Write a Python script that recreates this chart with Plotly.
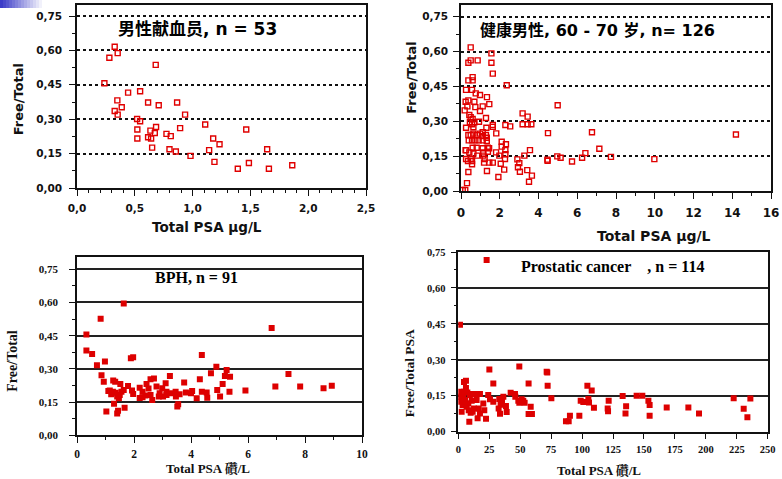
import plotly.graph_objects as go

W, H = 782, 479

# ---------------- data ----------------
p1_x = [0.326, 0.28, 0.352, 0.681, 0.237, 0.442, 0.546, 0.349, 0.387, 0.326, 0.352, 0.615, 0.707, 0.866,
        0.935, 0.520, 0.546, 0.684, 0.522, 0.635, 0.892, 1.109, 1.464, 0.673, 0.774, 0.811, 0.522, 0.615,
        0.641, 1.178, 1.233, 0.650, 0.80, 0.855, 1.143, 1.645, 0.982, 1.189, 1.487, 1.391, 1.660, 1.862]
p1_y = [0.616, 0.568, 0.588, 0.537, 0.457, 0.416, 0.422, 0.382, 0.352, 0.336, 0.320, 0.373, 0.361, 0.373,
        0.320, 0.301, 0.291, 0.266, 0.255, 0.250, 0.261, 0.277, 0.255, 0.240, 0.236, 0.226, 0.216, 0.221,
        0.216, 0.216, 0.191, 0.176, 0.169, 0.159, 0.165, 0.169, 0.140, 0.114, 0.109, 0.084, 0.084, 0.099]

p2_x = [0.50, 0.38, 0.50, 0.86, 1.57, 1.57, 1.64, 0.60, 0.38, 0.60, 2.36, 0.26, 0.57, 0.76, 0.98, 1.34,
        0.24, 0.38, 0.69, 1.46, 0.19, 0.33, 0.74, 1.12, 0.98, 1.29, 0.43, 0.50, 0.60, 0.46, 0.69, 0.93,
        0.26, 0.57, 0.64, 1.31, 1.64, 1.64, 2.29, 2.54, 3.18, 3.44, 3.18, 3.44, 3.63, 1.82,
        0.38, 0.50, 0.64, 0.83, 0.98, 1.12, 1.12, 1.29, 1.33, 0.40, 0.57, 0.74, 0.91, 1.12, 1.33,
        0.26, 0.60, 0.81, 1.12, 1.38, 2.10, 2.32, 2.10, 2.29, 1.45, 1.39, 1.81, 1.15, 1.15, 0.43,
        0.64, 0.84, 0.26, 0.50, 0.57, 0.36, 0.57, 1.22, 1.19, 1.46, 1.64, 1.98, 2.05, 2.29, 2.27,
        2.23, 1.34, 0.38, 1.93, 0.31, 0.09, 0.22, 2.91, 3.01, 2.94, 3.04, 3.27, 3.56, 3.42, 3.66,
        3.51, 4.49, 4.46, 4.47, 4.99, 4.97, 5.14, 5.73, 6.25, 6.42, 6.76, 7.14, 7.74, 9.98, 14.19, 0.24]
p2_y = [0.618, 0.552, 0.562, 0.562, 0.592, 0.552, 0.505, 0.490, 0.476, 0.476, 0.455, 0.435, 0.435, 0.420,
        0.413, 0.404, 0.384, 0.390, 0.384, 0.374, 0.347, 0.364, 0.361, 0.364, 0.344, 0.314, 0.327, 0.318,
        0.310, 0.296, 0.296, 0.298, 0.272, 0.287, 0.274, 0.272, 0.284, 0.276, 0.284, 0.278, 0.334, 0.320,
        0.287, 0.287, 0.287, 0.248,
        0.241, 0.241, 0.247, 0.241, 0.247, 0.253, 0.236, 0.241, 0.229, 0.218, 0.218, 0.218, 0.218, 0.218,
        0.215, 0.175, 0.186, 0.186, 0.184, 0.186, 0.212, 0.201, 0.191, 0.176, 0.184, 0.169, 0.166, 0.166,
        0.152, 0.166, 0.161, 0.152, 0.138, 0.138, 0.129, 0.129, 0.115, 0.138, 0.122, 0.122, 0.122, 0.152,
        0.117, 0.158, 0.138, 0.092, 0.086, 0.082, 0.060, 0.034, 0.004, 0.004, 0.136, 0.120, 0.102, 0.083,
        0.152, 0.176, 0.090, 0.066, 0.040, 0.249, 0.135, 0.130, 0.369, 0.149, 0.143, 0.127, 0.143, 0.163,
        0.253, 0.182, 0.147, 0.137, 0.243, 0.176]

p3_x = [0.33, 0.83, 1.64, 0.33, 0.53, 0.70, 0.98, 1.89, 1.97, 0.86, 0.94, 1.27, 1.34, 1.15, 1.03, 1.30,
        1.41, 1.44, 1.67, 1.41, 1.52, 1.56, 1.64, 1.47, 1.79, 1.93, 1.97, 2.20, 2.30, 2.30, 2.44, 2.51,
        2.58, 2.70, 2.58, 2.64, 2.79, 2.87, 2.99, 3.02, 3.14, 3.14, 3.26, 3.11, 3.31, 3.46, 3.47, 3.52,
        3.55, 3.76, 3.82, 4.04, 4.20, 4.31, 4.38, 4.38, 4.55, 4.57, 4.70, 4.89, 4.92, 5.02, 5.11, 5.19,
        5.25, 5.37, 5.35, 5.91, 6.83, 6.96, 7.42, 7.83, 8.65, 8.94, 1.26, 1.36, 1.20, 1.50, 1.10, 2.40,
        2.90, 3.60, 2.20, 4.00]
p3_y = [0.455, 0.526, 0.595, 0.383, 0.367, 0.316, 0.333, 0.348, 0.352, 0.271, 0.242, 0.247, 0.242, 0.202,
        0.107, 0.142, 0.099, 0.111, 0.125, 0.175, 0.232, 0.197, 0.205, 0.167, 0.223, 0.202, 0.187, 0.215,
        0.197, 0.172, 0.232, 0.211, 0.253, 0.256, 0.182, 0.160, 0.220, 0.175, 0.212, 0.175, 0.197, 0.182,
        0.268, 0.235, 0.190, 0.197, 0.175, 0.130, 0.140, 0.238, 0.193, 0.200, 0.167, 0.253, 0.363, 0.197,
        0.193, 0.170, 0.280, 0.310, 0.205, 0.175, 0.232, 0.268, 0.295, 0.265, 0.197, 0.202, 0.485, 0.220,
        0.277, 0.220, 0.212, 0.224, 0.197, 0.192, 0.185, 0.182, 0.200, 0.180, 0.190, 0.185, 0.168, 0.190]

p4_x = [22.9, 1.35, 25.1, 49.3, 71.4, 71.9, 4.6, 6.2, 28.3, 56.8, 72.2, 104.3, 107.8, 75.2, 42.3, 45.8,
        46.1, 24.2, 17.5, 10.8, 14.0, 132.8, 144.1, 148.7, 222.5, 236.0, 230.6, 233.6, 194.5, 185.9,
        168.4, 153.6, 154.6, 154.6, 135.6, 135.1, 121.5, 120.7, 121.0, 109.6, 105.1, 105.6, 98.9, 101.0,
        97.8, 90.2, 87.0, 89.2, 58.5, 59.5, 56.8, 52.5, 53.6, 51.2, 48.5, 49.3, 36.4, 35.3, 33.1, 34.2,
        32.6, 33.7, 38.5, 39.1, 28.3, 25.6, 22.4, 20.2, 21.0, 16.4, 17.5, 15.6, 12.7, 11.6, 10.0, 8.9,
        6.7, 8.1, 5.4, 4.0, 2.7, 3.5, 2.7, 6.2, 7.3, 1.9, 0.8, 0.8, 10.8, 14.8, 9.4, 4.6, 6.2, 8.4]
p4_y = [0.717, 0.446, 0.260, 0.272, 0.250, 0.247, 0.207, 0.213, 0.201, 0.201, 0.192, 0.192, 0.172, 0.140,
        0.163, 0.157, 0.146, 0.153, 0.157, 0.157, 0.157, 0.149, 0.150, 0.150, 0.140, 0.139, 0.096, 0.060,
        0.076, 0.101, 0.101, 0.129, 0.111, 0.067, 0.106, 0.076, 0.129, 0.097, 0.085, 0.100, 0.136, 0.122,
        0.129, 0.124, 0.067, 0.067, 0.044, 0.044, 0.104, 0.074, 0.074, 0.129, 0.121, 0.135, 0.129, 0.121,
        0.146, 0.129, 0.136, 0.112, 0.097, 0.075, 0.107, 0.082, 0.125, 0.135, 0.054, 0.118, 0.090, 0.097,
        0.076, 0.056, 0.097, 0.083, 0.079, 0.042, 0.104, 0.118, 0.132, 0.146, 0.146, 0.111, 0.083, 0.182,
        0.164, 0.167, 0.146, 0.125, 0.129, 0.132, 0.153, 0.167, 0.118, 0.090]

titles = ["男性献血员, n = 53", "健康男性, 60 - 70 岁, n= 126", "BPH, n = 91",
          "Prostatic cancer\u00a0\u00a0\u00a0\u00a0, n = 114"]
x_titles = ["Total PSA µg/L", "Total PSA µg/L", "Total PSA 礸/L", "Total PSA 礸/L"]
y_titles = ["Free/Total", "Free/Total", "Free/Total", "Free/Total PSA"]

# ---------------- styling ----------------
RED = "#e00000"
SANS = "DejaVu Sans, Noto Sans CJK SC, sans-serif"
SERIF = "Liberation Serif, Noto Serif CJK SC, Noto Sans CJK SC, serif"


def px_x(p):
    return p / W


def px_y(p):
    return 1 - p / H


fig = go.Figure()

fig.add_trace(go.Scatter(x=p1_x, y=p1_y, mode="markers", xaxis="x", yaxis="y",
                         marker=dict(symbol="square-open", size=5, color=RED, line=dict(width=1.4, color=RED))))
fig.add_trace(go.Scatter(x=p2_x, y=p2_y, mode="markers", xaxis="x2", yaxis="y2",
                         marker=dict(symbol="square-open", size=5, color=RED, line=dict(width=1.4, color=RED))))
fig.add_trace(go.Scatter(x=p3_x, y=p3_y, mode="markers", xaxis="x3", yaxis="y3",
                         marker=dict(symbol="square", size=6, color="#dd0000", line=dict(width=0))))
fig.add_trace(go.Scatter(x=p4_x, y=p4_y, mode="markers", xaxis="x4", yaxis="y4",
                         marker=dict(symbol="square", size=6, color="#dd0000", line=dict(width=0))))


def xax(dom, anchor, rng, dtick, fmt, family, size, minor_dtick, standoff, minor_ticks="outside"):
    return dict(domain=dom, anchor=anchor, range=rng, dtick=dtick, tick0=0, tickformat=fmt,
                automargin=False,
                showline=True, linecolor="#111", linewidth=1.5, mirror=True, showgrid=False,
                zeroline=False, ticks="outside", ticklen=6, tickwidth=1.2, tickcolor="#111",
                tickfont=dict(family=family, size=size, color="#111", weight="bold"),
                ticklabelstandoff=standoff,
                minor=dict(ticks=minor_ticks, ticklen=3, dtick=minor_dtick, tickcolor="#111", tickwidth=1,
                           showgrid=False),
                fixedrange=True)


def yax(dom, anchor, rng, family, size, griddash, gridcolor, standoff):
    return dict(domain=dom, anchor=anchor, range=rng, dtick=0.15, tick0=0, tickformat=".2f",
                automargin=False,
                showline=True, linecolor="#111", linewidth=1.5, mirror=True,
                showgrid=True, gridcolor=gridcolor, gridwidth=1.5, griddash=griddash,
                zeroline=False, ticks="outside", ticklen=6, tickwidth=1.2, tickcolor="#111",
                tickfont=dict(family=family, size=size, color="#111", weight="bold"),
                ticklabelstandoff=standoff,
                minor=dict(ticks="outside", ticklen=3, dtick=0.075, tickcolor="#111", tickwidth=1,
                           showgrid=False),
                fixedrange=True)


layout = dict(
    width=W, height=H, margin=dict(l=0, r=0, t=0, b=0, autoexpand=False), showlegend=False,
    paper_bgcolor="white", plot_bgcolor="white", separators=",.",
    xaxis=xax([px_x(77), px_x(366)], "y", [0, 2.5], 0.5, ".1f", SANS, 10.5, 0.1, 4),
    yaxis=yax([px_y(188), px_y(5)], "x", [0, 0.798], SANS, 10.5, "dot", "#111", 5),
    xaxis2=xax([px_x(461), px_x(771)], "y2", [0, 16], 2, "d", SANS, 12, 1, 4),
    yaxis2=yax([px_y(191), px_y(4.7)], "x2", [0, 0.8016], SANS, 10.5, "dot", "#111", 3),
    xaxis3=xax([px_x(77), px_x(362)], "y3", [0, 10], 2, "d", SERIF, 11.5, 1, 1),
    yaxis3=yax([px_y(435.3), px_y(257.3)], "x3", [0, 0.804], SERIF, 11, "solid", "#222", 9),
    xaxis4=xax([px_x(458.3), px_x(767.7)], "y4", [0, 250], 25, "d", SERIF, 10.5, 12.5, 1, minor_ticks=""),
    yaxis4=yax([px_y(431.7), px_y(252)], "x4", [0, 0.75], SERIF, 10.5, "solid", "#222", 3),
)
fig.update_layout(**layout)

ann = []
# panel titles
ann.append(dict(text=titles[0], x=px_x(197.5), y=px_y(29), font=dict(family=SANS, size=17, weight="bold", color="#000")))
ann.append(dict(text=titles[1], x=px_x(597.5), y=px_y(30.7), font=dict(family=SANS, size=16, weight="bold", color="#000")))
ann.append(dict(text=titles[2], x=px_x(196.5), y=px_y(277.7), font=dict(family=SERIF, size=16, weight="bold", color="#000")))
ann.append(dict(text=titles[3], x=px_x(612), y=px_y(266.7), font=dict(family=SERIF, size=16, weight="bold", color="#000")))
# axis titles
ann.append(dict(text=y_titles[0], x=px_x(18.3), y=px_y(99), textangle=-90, font=dict(family=SANS, size=13, weight="bold", color="#111")))
ann.append(dict(text=x_titles[0], x=px_x(207), y=px_y(227), font=dict(family=SANS, size=13.5, weight="bold", color="#111")))
ann.append(dict(text=y_titles[1], x=px_x(410.7), y=px_y(78), textangle=-90, font=dict(family=SANS, size=13, weight="bold", color="#111")))
ann.append(dict(text=x_titles[1], x=px_x(654), y=px_y(236), font=dict(family=SANS, size=14, weight="bold", color="#111")))
ann.append(dict(text=y_titles[2], x=px_x(13), y=px_y(360.7), textangle=-90, font=dict(family=SERIF, size=14, weight="bold", color="#111")))
ann.append(dict(text=x_titles[2], x=px_x(208), y=px_y(468), font=dict(family=SERIF, size=13, weight="bold", color="#111")))
ann.append(dict(text=y_titles[3], x=px_x(409), y=px_y(373.3), textangle=-90, font=dict(family=SERIF, size=13.5, weight="bold", color="#111")))
ann.append(dict(text=x_titles[3], x=px_x(598.7), y=px_y(470), font=dict(family=SERIF, size=13, weight="bold", color="#111")))
for a in ann:
    a.update(xref="paper", yref="paper", xanchor="center", yanchor="middle", showarrow=False)
fig.update_layout(annotations=ann)

# decorative blue gradient strip at top-left of the slide
shapes = []
n_steps = 15
for i in range(n_steps):
    t = i / (n_steps - 1)
    r = int(60 + (255 - 60) * t)
    g = int(60 + (255 - 60) * t)
    b = int(200 + (255 - 200) * t)
    x0 = (45 / n_steps) * i
    x1 = (45 / n_steps) * (i + 1)
    shapes.append(dict(type="rect", xref="paper", yref="paper", x0=px_x(x0), x1=px_x(x1),
                       y0=px_y(8), y1=1, line=dict(width=0), fillcolor=f"rgb({r},{g},{b})", layer="below"))
fig.update_layout(shapes=shapes)

fig.write_html("out.html", config={"displayModeBar": False},
               post_script="document.body.style.margin='0px';document.body.style.overflow='hidden';")
